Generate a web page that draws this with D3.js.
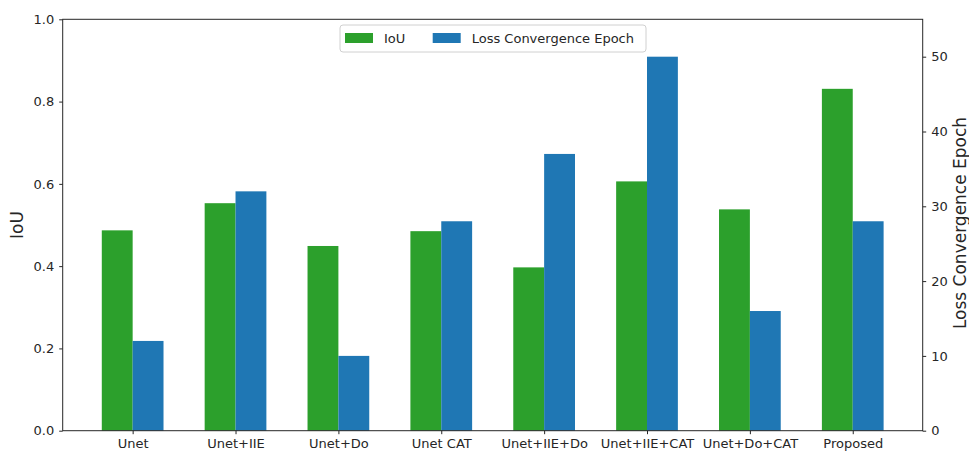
<!DOCTYPE html>
<html lang="en">
  <head>
    <meta charset="utf-8" />
    <title>IoU and Loss Convergence Epoch</title>
    <script src="https://d3js.org/d3.v7.min.js"></script>
    <style type="text/css">
      body {
        margin: 0;
        background: white;
      }
      text {
        font-family: "DejaVu Sans", sans-serif;
        fill: #262626;
      }
      .tick text {
        font-size: 13px;
      }
      .axisLabel {
        font-size: 17px;
      }
      .legend text {
        font-size: 13px;
      }
    </style>
  </head>
  <body>
    <script type="text/javascript">
      const w = 969;
      const h = 452;

      // Data
      const categories = [
        "Unet",
        "Unet+IIE",
        "Unet+Do",
        "Unet CAT",
        "Unet+IIE+Do",
        "Unet+IIE+CAT",
        "Unet+Do+CAT",
        "Proposed",
      ];
      const iou = [0.487, 0.553, 0.449, 0.485, 0.397, 0.606, 0.538, 0.831];
      const epochs = [12, 32, 10, 28, 37, 50, 16, 28];
      const iouTicks = [0, 0.2, 0.4, 0.6, 0.8, 1.0];
      const epochTicks = [0, 10, 20, 30, 40, 50];

      const green = "#2ca02c";
      const blue = "#1f77b4";
      const barWidth = 0.3;

      // Plot box
      const plotLeft = 62.7;
      const plotRight = 922.7;
      const plotTop = 19.3;
      const plotBottom = 430.7;

      // Scales
      const x = d3
        .scaleLinear()
        .domain([-0.68, categories.length - 1 + 0.68])
        .range([plotLeft, plotRight]);
      const yLeft = d3.scaleLinear().domain([0, 1]).range([plotBottom, plotTop]);
      const yRight = d3.scaleLinear().domain([0, 55]).range([plotBottom, plotTop]);

      const svg = d3
        .select("body")
        .append("svg")
        .attr("width", w)
        .attr("height", h);

      // IoU bars
      svg
        .append("g")
        .selectAll("rect")
        .data(iou)
        .enter()
        .append("rect")
        .attr("x", (d, i) => x(i - barWidth))
        .attr("y", (d) => yLeft(d))
        .attr("width", x(barWidth) - x(0))
        .attr("height", (d) => plotBottom - yLeft(d))
        .attr("fill", green);

      // Epoch bars
      svg
        .append("g")
        .selectAll("rect")
        .data(epochs)
        .enter()
        .append("rect")
        .attr("x", (d, i) => x(i))
        .attr("y", (d) => yRight(d))
        .attr("width", x(barWidth) - x(0))
        .attr("height", (d) => plotBottom - yRight(d))
        .attr("fill", blue);

      // Axes
      const styleAxis = function (g) {
        g.selectAll(".domain").remove();
        g.selectAll(".tick line").attr("stroke", "#262626").attr("stroke-width", 1);
      };

      svg
        .append("g")
        .attr("transform", "translate(0," + plotBottom + ")")
        .call(
          d3
            .axisBottom(x)
            .tickValues(d3.range(categories.length))
            .tickFormat((i) => categories[i])
            .tickSize(3.5)
            .tickPadding(5)
        )
        .call(styleAxis);

      svg
        .append("g")
        .attr("transform", "translate(" + plotLeft + ",0)")
        .call(
          d3
            .axisLeft(yLeft)
            .tickValues(iouTicks)
            .tickFormat(d3.format(".1f"))
            .tickSize(3.5)
            .tickPadding(5)
        )
        .call(styleAxis);

      svg
        .append("g")
        .attr("transform", "translate(" + plotRight + ",0)")
        .call(
          d3
            .axisRight(yRight)
            .tickValues(epochTicks)
            .tickSize(3.5)
            .tickPadding(5)
        )
        .call(styleAxis);

      // Frame
      svg
        .append("rect")
        .attr("x", plotLeft)
        .attr("y", plotTop)
        .attr("width", plotRight - plotLeft)
        .attr("height", plotBottom - plotTop)
        .attr("fill", "none")
        .attr("stroke", "#262626")
        .attr("stroke-width", 1);

      // Axis labels
      svg
        .append("text")
        .attr("class", "axisLabel")
        .attr("transform", "translate(23," + (plotTop + plotBottom) / 2 + ") rotate(-90)")
        .attr("text-anchor", "middle")
        .text("IoU");

      svg
        .append("text")
        .attr("class", "axisLabel")
        .attr("transform", "translate(966,223) rotate(-90)")
        .attr("text-anchor", "middle")
        .text("Loss Convergence Epoch");

      // Legend
      const legend = svg.append("g").attr("class", "legend");
      legend
        .append("rect")
        .attr("x", 340)
        .attr("y", 25)
        .attr("width", 306)
        .attr("height", 27)
        .attr("rx", 3)
        .attr("fill", "white")
        .attr("fill-opacity", 0.8)
        .attr("stroke", "#d0d0d0");

      const legendItems = [
        { label: "IoU", color: green, x: 345 },
        { label: "Loss Convergence Epoch", color: blue, x: 432.7 },
      ];
      const items = legend
        .selectAll("g.item")
        .data(legendItems)
        .enter()
        .append("g")
        .attr("class", "item")
        .attr("transform", (d) => "translate(" + d.x + ",0)");
      items
        .append("rect")
        .attr("y", 33)
        .attr("width", 28)
        .attr("height", 10)
        .attr("fill", (d) => d.color);
      items
        .append("text")
        .attr("x", 39)
        .attr("y", 43)
        .text((d) => d.label);
    </script>
  </body>
</html>
